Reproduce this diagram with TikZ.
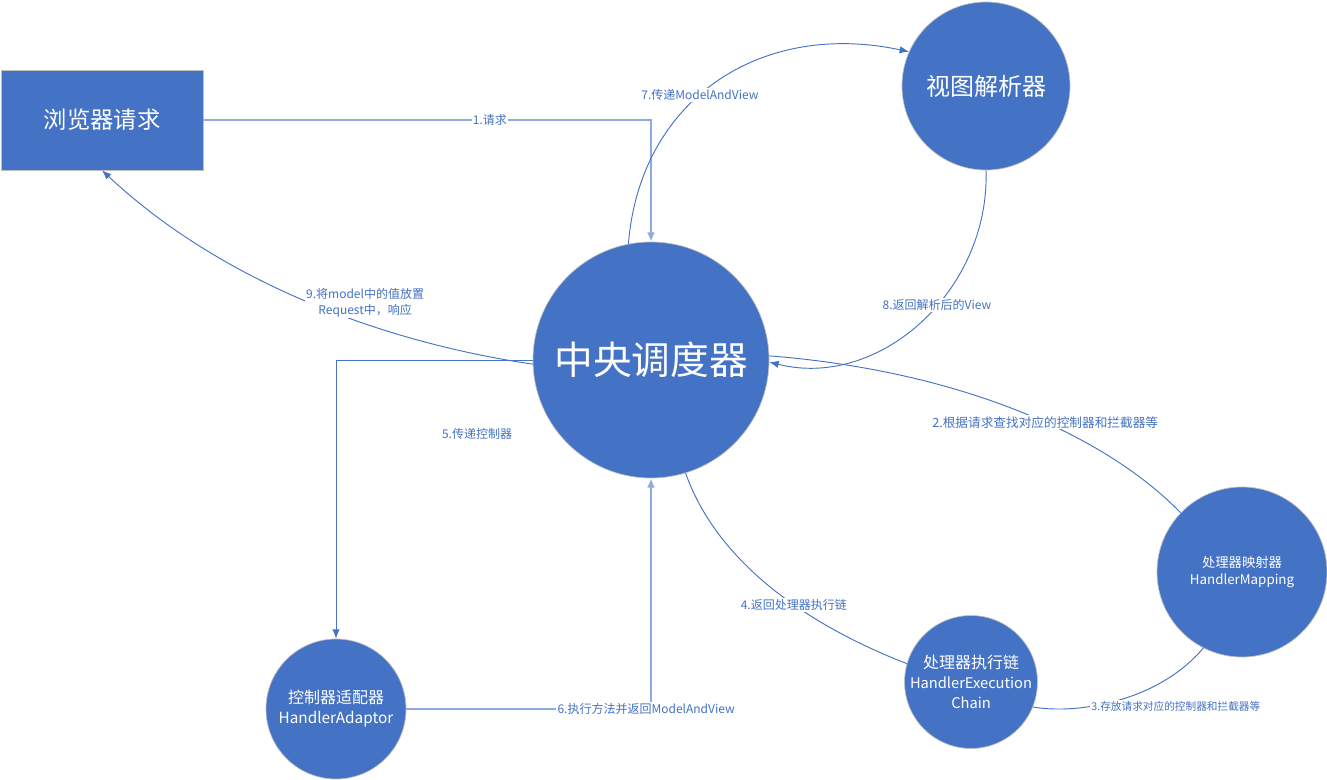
\documentclass[tikz,border=0pt]{standalone}
\usepackage{fontspec}
\setmainfont{Noto Sans CJK SC}
\usepackage{tikz}
\usetikzlibrary{positioning, arrows, arrows.meta}
\definecolor{nodeblue}{HTML}{4472C4}
\definecolor{paleblue}{HTML}{8FAADC}
\definecolor{rimgray}{HTML}{BFBFBF}

\begin{document}
\begin{tikzpicture}[x=0.75pt, y=-0.75pt,
    circ/.style={circle, fill=nodeblue, draw=rimgray, line width=0.5pt, text=white, inner sep=0pt, align=center},
    lab/.style={fill=white, text=nodeblue, font=\fontsize{9}{12}\selectfont, inner sep=1pt, align=center},
    flow/.style={draw=nodeblue, line width=0.7pt, -{Latex[length=7pt,width=5.5pt]}},
    plain flow/.style={draw=nodeblue, line width=0.7pt},
    pale flow/.style={draw=paleblue, line width=1.5pt, -{Latex[length=7pt,width=6pt]}}]
    \useasboundingbox (0,0) rectangle (1327,780);

    \node[rectangle, fill=nodeblue, draw=rimgray, line width=0.5pt, text=white,
          minimum width=151.5pt, minimum height=75pt, font=\fontsize{17.5}{20}\selectfont]
          (browser) at (102,120) {浏览器请求};
    \node[circ, minimum size=177pt, font=\fontsize{29}{32}\selectfont] (central) at (651,360) {中央调度器};
    \node[circ, minimum size=126pt, font=\fontsize{18}{20}\selectfont] (view) at (986,86) {视图解析器};
    \node[circ, minimum size=105pt, font=\fontsize{12}{15}\selectfont] (adaptor) at (336,709) {控制器适配器\\{\fontsize{11.5}{15}\selectfont HandlerAdaptor}};
    \node[circ, minimum size=93pt, font=\fontsize{12}{15}\selectfont] (chain) at (971,682) {处理器执行链\\{\fontsize{11}{15}\selectfont HandlerExecution}\\{\fontsize{11}{15}\selectfont Chain}};
    \node[circ, minimum size=127.5pt, font=\fontsize{10}{13}\selectfont] (mapping) at (1242,572) {处理器映射器\\HandlerMapping};

    % requests going in
    \draw[pale flow] (browser) -| node[lab, pos=0.32] {1.请求} (central);
    \draw[plain flow] (mapping.136) .. controls (1100,430) and (950,370) .. node[lab, pos=0.42, font=\fontsize{9.5}{12}\selectfont] {2.根据请求查找对应的控制器和拦截器等} (central.2);
    \draw[plain flow] (mapping.-117) .. controls (1160,700) and (1080,715) .. node[lab, pos=0.66, anchor=west, font=\fontsize{8}{10}\selectfont] {3.存放请求对应的控制器和拦截器等} (chain.-22);
    \draw[plain flow] (central.-73) .. controls (720,570) and (820,630) .. node[lab, pos=0.57] {4.返回处理器执行链} (chain.164);
    \draw[flow] (central) -| (adaptor);
    \node[lab] (pass) at (477,434) {5.传递控制器};
    \draw[pale flow] (adaptor) -| node[lab, pos=0.49] {6.执行方法并返回ModelAndView} (central);
    % view resolving and response
    \draw[flow] (central.101) .. controls (640,100) and (760,20) .. node[lab, pos=0.44] {7.传递ModelAndView} (view.156);
    \draw[flow] (view.south) .. controls (990,290) and (880,390) .. node[lab, pos=0.43] {8.返回解析后的View} (central.-1);
    \draw[flow] (central.182) .. controls (400,345) and (230,290) .. node[lab, pos=0.47, xshift=27pt, yshift=6pt] {9.将model中的值放置\\Request中，响应} (browser.south);
\end{tikzpicture}
\end{document}
